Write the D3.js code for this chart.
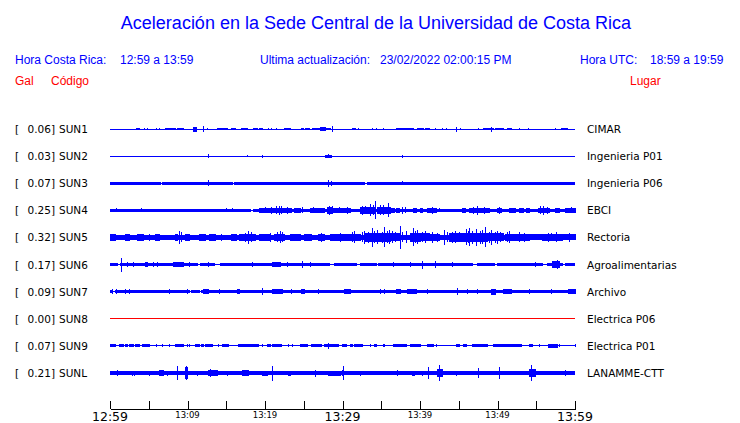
<!DOCTYPE html>
<html><head><meta charset="utf-8">
<script src="https://cdn.jsdelivr.net/npm/d3@7"></script>
<style>body{margin:0;background:#fff}svg{display:block}</style>
</head><body><svg id="c" width="740" height="423"></svg>
<script>
// ---------- data ----------
const stations = ["SUN1","SUN2","SUN3","SUN4","SUN5","SUN6","SUN7","SUN8","SUN9","SUNL"];
const peakGal  = [0.06, 0.03, 0.07, 0.25, 0.32, 0.17, 0.09, 0.00, 0.07, 0.21];
const places   = ["CIMAR","Ingenieria P01","Ingenieria P06","EBCI","Rectoria","Agroalimentarias","Archivo","Electrica P06","Electrica P01","LANAMME-CTT"];
// background (noise) envelope half-amplitude of each trace, relative units
const baseAmp  = [0.5, 0.5, 1.7, 1.5, 2.8, 1.7, 1.7, 0.5, 0.5, 1.7];
// bursts: [start minute, end minute (after 12:59), envelope half-amplitude]
const sun1Events = [[3.48,3.87,1.3],[4.39,4.39,1.3],[4.9,4.9,1.3],[6.06,6.06,1],[6.45,6.45,1],[7.1,8.39,1.3],[8.65,9.42,1.3],[10.71,11.1,2.5],[12.0,12.0,3],[12.52,12.52,1],[13.81,15.1,1.3],[15.74,16.13,1.3],[17.03,17.68,1],[18.58,18.97,1.3],[19.35,19.74,1.3],[20.39,20.39,1],[20.9,20.9,1],[21.42,21.42,1],[22.58,23.23,1.3],[24.65,25.03,1.3],[25.29,25.68,1.3],[26.19,28.39,1.3],[27.1,27.87,2],[28.77,28.77,3],[31.35,31.74,1.3],[32.0,32.0,1],[33.81,33.81,1.3],[34.45,34.45,1],[35.23,35.23,1],[37.03,39.1,1.3],[39.74,40.39,1.3],[40.65,41.29,1.3],[41.94,41.94,1],[42.84,42.84,1],[43.48,43.48,1],[44.77,44.77,2.5],[45.29,45.29,1],[47.61,47.61,1],[48.13,49.42,1.3],[49.29,49.29,2.5],[49.68,50.71,1.3],[51.35,51.87,1.3],[52.9,52.9,1.3],[53.94,53.94,1],[57.42,57.42,1],[58.32,58.97,1.3]];
const sun2Events = [[12.65,12.65,2],[17.68,17.68,1],[19.74,19.74,1.5],[27.87,28.52,1.5],[28.13,28.13,2],[37.68,37.68,1.5]];
const sun3Events = [[12.65,12.65,3],[28.13,28.13,3.5],[28.52,28.52,2.5],[37.68,37.68,2]];
const sun4Events = [[0.9,0.9,2],[4.0,4.0,2],[4.9,4.9,1.8],[14.97,14.97,2],[15.87,15.87,2],
  [19.35,20.65,2.2],[20.0,20.0,3],[20.9,22.58,2.8],[20.9,20.9,3.5],[21.42,21.42,4],[21.81,21.81,4.5],[22.19,22.19,4],
  [22.58,23.48,2.3],[22.9,22.9,3.2],[23.87,24.52,2.2],[24.9,24.9,3],[25.81,27.1,2.3],[26.3,26.3,3],[27.1,27.74,2.5],
  [28.0,28.77,3.2],[28.26,28.26,4.5],[28.65,28.65,4],[28.9,30.32,2.3],[29.6,29.6,3],[30.32,30.97,2.8],[30.6,30.6,3.5],
  [32.26,33.29,3.2],[32.6,32.6,4.5],[33.0,33.0,4],[33.29,34.19,3.5],[33.6,33.6,6],[34.0,34.0,5],[34.32,34.32,9],
  [34.58,36.13,3.5],[34.9,34.9,5],[35.3,35.3,5],[35.9,35.9,7],[36.13,36.77,2.5],
  [37.0,37.4,2.5],[37.7,37.7,3.5],[38.1,38.1,3],[39.1,39.5,2.5],[40.0,40.3,2.5],[41.03,42.19,2.5],[41.6,41.6,3.2],[42.58,42.58,2],
  [45.42,45.81,2.8],[46.45,47.74,2.8],[46.9,46.9,3.8],[47.4,47.4,4.5],[47.74,49.03,2.5],[48.3,48.3,3.5],
  [49.94,50.58,2.8],[50.3,50.3,3.5],[51.61,52.26,2.3],[52.9,53.4,2.3],[53.8,54.19,2.3],
  [55.23,56.77,2.8],[55.6,55.6,4],[55.9,55.9,4.5],[56.4,56.4,3.5],[57.42,58.06,2.3],[58.71,60,2.2],[59.5,59.5,3]];
const sun5Events = [[0,0.65,3.5],[1.94,2.58,3.5],[3.61,4.26,3.8],[5.16,5.16,3.5],[5.81,6.45,3.5],[8.39,8.77,3.5],[9.03,9.03,6.5],[9.2,9.2,5],[9.68,10.32,3.5],[11.61,12.26,3.2],[12.9,13.55,3.5],[14.45,14.45,3.5],[15.74,16.26,3.2],[16.77,18.71,3.6],[17.5,17.5,4.5],[17.81,17.81,6.5],[18.2,18.2,5],[19.35,20.65,3.4],[20.65,20.65,4.5],[21.29,22.58,3.8],[21.6,21.6,5],[21.94,21.94,6],[22.3,22.3,5],[23.23,24.52,3.4],[25.16,26.06,3.1],[26.84,27.74,3.6],[27.3,27.3,4.5],[28.39,30.97,3.3],[29.68,29.68,4.5],[30.97,32.26,3.7],[31.3,31.3,5],[31.61,31.61,6],[32.52,32.52,5],
  [32.9,34.84,4.2],[32.9,32.9,6.5],[33.4,33.4,5.5],[33.81,33.81,9.5],[34.19,34.19,6],[34.58,34.58,7],
  [34.84,36.13,4.3],[35.1,35.1,5.5],[35.48,35.48,10],[35.8,35.8,6],[36.0,36.0,7],
  [36.13,37.42,4],[36.39,36.39,6],[36.9,36.9,5],[37.42,37.42,11.5],[37.8,37.8,5],[38.32,38.32,6],
  [38.71,40.0,4.5],[39.1,39.1,9],[39.4,39.4,6],[39.74,39.74,7],
  [40.0,41.29,4],[40.3,40.3,5],[40.77,40.77,6],[41.55,41.55,5.5],[41.29,42.58,3.6],[42.2,42.2,4.5],[43.1,43.1,7.5],[43.5,43.5,5],
  [43.87,45.55,4.2],[44.2,44.2,5.5],[44.52,44.52,6],[45.1,45.1,5],
  [45.55,48.65,4.8],[45.94,45.94,8],[46.2,46.2,6],[46.45,46.45,9],[46.8,46.8,6.5],[47.23,47.23,8.5],[47.8,47.8,6.5],[48.1,48.1,7],[48.39,48.39,10],
  [48.65,50.71,4],[49.0,49.0,5.5],[49.29,49.29,7.5],[49.7,49.7,5.5],[50.06,50.06,6.5],[50.4,50.4,5],
  [50.97,51.87,3.8],[51.3,51.3,5],[51.61,51.61,6],[51.87,54.19,3.3],[52.9,52.9,5],[53.5,53.5,4.5],
  [54.19,55.87,3],[55.87,58.45,3.4],[56.52,56.52,4.5],[57.0,57.0,4],[57.55,57.55,5],[58.45,60,3],[59.35,59.35,4.5]];
const sun6Events = [[1.42,1.42,7],[2.32,2.32,2.5],[2.97,2.97,2.5],[4.52,4.9,2.5],[5.55,5.55,2.5],[6.19,6.19,2.5],[8.13,9.42,2.5],[10.32,10.32,2.5],[12.65,12.65,2.5],[18.45,18.45,2.5],[21.03,21.94,2.2],[22.84,22.84,2.5],[24.9,24.9,3.5],[25.81,25.81,2.2],[36.52,36.52,2.5],[38.71,38.71,2.5],[40.26,40.26,4],[41.94,41.94,3.5],[44.13,44.13,2.5],[54.84,54.84,2.5],[57.16,58.06,3.5],[57.68,57.68,4.5]];
const sun7Events = [[0.26,0.26,2.5],[0.9,0.9,2.5],[1.94,1.94,2.5],[2.58,2.58,2.5],[7.74,7.74,2.5],[9.94,9.94,2.5],[12.0,12.65,2.5],[14.19,14.19,2.5],[16.39,16.77,2.5],[19.74,19.74,3.5],[21.03,22.32,2.5],[23.48,23.48,2.5],[24.77,25.16,2.5],[26.84,26.84,2.5],[30.32,30.97,2.5],[34.84,34.84,2.5],[35.48,35.48,2.5],[37.03,37.42,2.5],[38.45,39.61,2.5],[41.03,41.03,2.5],[44.9,44.9,3.5],[46.19,46.19,2.5],[47.48,47.48,2.5],[49.29,49.68,3],[50.71,51.87,2.5],[54.19,54.19,2.5],[57.03,57.03,2.5],[59.1,60,2.5]];
const sun8Events = [];
const sun9Events = [[0,0.65,1.5],[1.29,1.68,1.5],[1.94,2.32,1.5],[2.58,2.97,1.5],[3.23,3.48,1.5],[3.61,3.87,1.5],[4.13,5.16,1.5],[6.06,6.06,1.5],[6.71,6.71,1.5],[7.74,7.74,1.5],[8.39,9.42,1.5],[9.94,9.94,1.5],[10.32,10.32,1.5],[10.97,11.61,1.5],[11.87,12.0,1.5],[12.26,13.29,1.5],[13.94,13.94,1.5],[14.58,15.1,1.5],[15.23,15.23,1.5],[16.52,19.1,1.5],[19.74,19.74,1.5],[20.26,20.65,1.5],[21.03,22.19,1.5],[22.97,22.97,1.5],[23.61,23.61,1.5],[24.52,25.42,1.5],[26.06,27.35,1.5],[27.74,28.39,1.5],[28.13,28.13,3],[28.39,29.42,1.5],[29.94,30.58,1.5],[30.97,31.35,1.5],[31.61,32.52,1.5],[33.55,33.55,1.5],[34.19,34.45,1.5],[35.23,35.48,1.5],[36.52,38.32,1.5],[38.71,40.0,1.5],[41.03,41.68,1.5],[42.19,42.19,1.5],[44.77,45.16,1.5],[45.55,46.06,1.5],[46.71,48.77,1.5],[49.42,53.16,1.5],[54.19,54.58,1.5],[55.48,55.48,1.5],[56.52,57.68,2],[58.06,58.06,1.5],[60,60,1.5]];
const sunLEvents = [[1.03,1.03,3],[2.84,2.84,2.5],[3.1,3.1,2.5],[5.16,5.16,2.5],[6.45,6.84,3],[7.48,7.48,2.5],[8.65,8.65,7],[9.68,10.06,6],[9.81,9.81,7],[11.23,11.23,2.5],[12.65,13.81,3],[13.03,13.03,4],[15.1,15.1,2.5],[17.16,17.81,3],[19.74,20.26,2.5],[21.03,21.03,7.5],[22.97,23.23,2.5],[26.58,26.58,3.5],[28.13,29.68,2.5],[30.06,30.06,3],[30.19,30.19,7],[32.26,32.26,2.5],[37.16,37.16,3],[38.97,39.35,2.5],[40.26,40.26,2.5],[41.16,41.16,6],[42.32,42.84,4],[42.58,42.58,8],[44.77,44.77,2.5],[47.61,47.61,5],[50.32,50.32,6],[54.19,54.84,4],[54.45,54.45,8],[58.71,58.71,3]];
const eventsByStation = [sun1Events,sun2Events,sun3Events,sun4Events,sun5Events,sun6Events,sun7Events,sun8Events,sun9Events,sunLEvents];
// quiet stretches where the trace narrows to a thin line: [start minute, end minute]
const gapsByStation = [[],[],[[6.55,6.7],[15.85,16.0],[32.95,33.1]],[[18.25,18.4]],[],
  [[1.0,1.3],[11.35,11.6],[13.5,14.2],[28.4,28.9],[31.9,32.3],[34.45,34.6],[46.8,47.35],[49.7,49.9],[55.9,56.4],[58.45,58.7]],
  [[0.4,0.6],[10.3,10.45],[11.55,11.7]],[],[],[]];
const tickMinutes = [0,5,10,15,20,25,30,35,40,45,50,55,60];
const tickLabels  = ["12:59","","13:09","","13:19","","13:29","","13:39","","13:49","","13:59"];
const majorLabels = ["12:59","13:29","13:59"];

// ---------- drawing ----------
const svg = d3.select("#c");
const blue = "#0000ff", red = "#ff0000";
const hdr = "'Liberation Sans', Arial, sans-serif";
const body = "'DejaVu Sans', sans-serif";

svg.append("text").attr("x",376).attr("y",29).attr("text-anchor","middle")
  .attr("font-family",hdr).attr("font-size",18).attr("fill",blue)
  .text("Aceleración en la Sede Central de la Universidad de Costa Rica");
const row2 = [["Hora Costa Rica:",15],["12:59 a 13:59",120],["Ultima actualización:",260],["23/02/2022 02:00:15 PM",380],["Hora UTC:",580],["18:59 a 19:59",650]];
row2.forEach(([t,x])=>svg.append("text").attr("x",x).attr("y",64).attr("font-family",hdr)
  .attr("font-size",12).attr("fill",blue).text(t));
[["Gal",15],["Código",51],["Lugar",630]].forEach(([t,x])=>svg.append("text").attr("x",x).attr("y",85)
  .attr("font-family",hdr).attr("font-size",12).attr("fill",red).text(t));

const x = d3.scaleLinear().domain([0,60]).range([110,575]);
const y = d3.scalePoint().domain(stations).range([129,373]);
const amp = d3.scaleLinear().domain([0,12]).range([0,12]);

const g = svg.append("g").attr("shape-rendering","crispEdges");
stations.forEach((s,i)=>{
  const cy = y(s);
  const col = peakGal[i] === 0 ? red : blue;
  const tg = g.append("g").attr("fill",col);
  tg.append("rect").attr("x",x(0)).attr("width",x(60)-x(0))
    .attr("y",cy-amp(0.5)).attr("height",2*amp(0.5));
  const gaps = gapsByStation[i];
  const bounds = [0].concat(gaps.flat()).concat([60]);
  const segs = d3.range(0,bounds.length,2).map(k=>[bounds[k],bounds[k+1]]);
  tg.selectAll(null).data(segs).join("rect")
    .attr("x",d=>x(d[0])).attr("width",d=>Math.max(0,x(d[1])-x(d[0])))
    .attr("y",cy-amp(baseAmp[i])).attr("height",2*amp(baseAmp[i]));
  tg.selectAll(null).data(eventsByStation[i]).join("rect")
    .attr("x",d=>x(d[0])-0.5).attr("width",d=>Math.max(1,x(d[1])-x(d[0])+1))
    .attr("y",d=>cy-amp(d[2])).attr("height",d=>2*amp(d[2]));
  const lab = svg.append("g").attr("font-family",body).attr("font-size",10.5).attr("fill","#000");
  lab.append("text").attr("x",15).attr("y",cy+4).text("[");
  lab.append("text").attr("x",55).attr("y",cy+4).attr("text-anchor","end").text(peakGal[i].toFixed(2)+"]");
  lab.append("text").attr("x",59).attr("y",cy+4).text(s);
  lab.append("text").attr("x",587).attr("y",cy+4).text(places[i]);
});

const ax = svg.append("g").attr("transform","translate(0,409)")
  .call(d3.axisTop(x).tickValues(tickMinutes).tickSize(8).tickSizeOuter(0).tickFormat(""));
ax.select(".domain").attr("stroke","#000");
ax.selectAll(".tick line").attr("stroke","#000");
ax.attr("shape-rendering","crispEdges");
svg.append("g").selectAll("text").data(tickMinutes.filter((m,k)=>tickLabels[k]!==""))
  .join("text")
  .attr("x",m=>x(m)).attr("text-anchor","middle").attr("font-family",body)
  .each(function(m){
    const lbl = tickLabels[tickMinutes.indexOf(m)];
    const big = majorLabels.includes(lbl);
    d3.select(this).attr("y",big?421:418).attr("font-size",big?12.5:8.5).text(lbl);
  });
</script></body></html>
